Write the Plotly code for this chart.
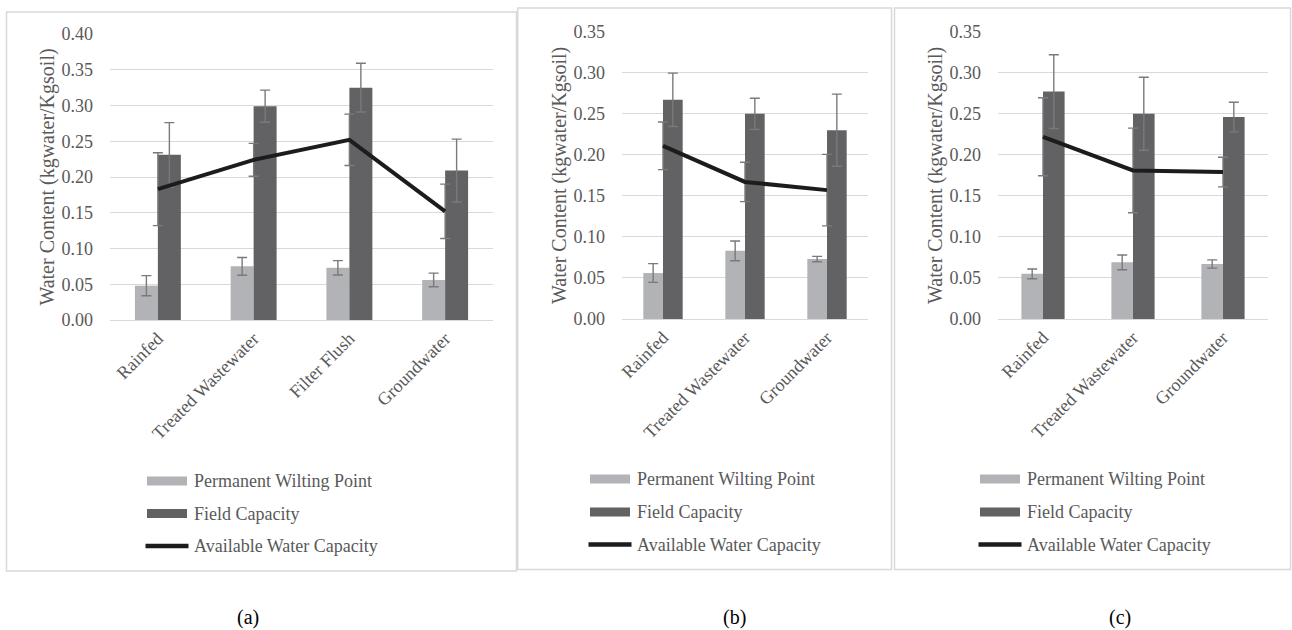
import plotly.graph_objects as go

# ---------------- data ----------------
cats_a = ["Rainfed", "Treated Wastewater", "Filter Flush", "Groundwater"]
pwp_a = [0.048, 0.075, 0.073, 0.056]
pwp_err_a = [0.014, 0.0125, 0.010, 0.0095]
fc_a = [0.231, 0.299, 0.325, 0.209]
fc_err_a = [0.045, 0.0225, 0.034, 0.044]
awc_a = [0.183, 0.224, 0.252, 0.152]
awc_err_a = [0.051, 0.023, 0.036, 0.038]

cats_b = ["Rainfed", "Treated Wastewater", "Groundwater"]
pwp_b = [0.056, 0.083, 0.073]
pwp_err_b = [0.0114, 0.012, 0.0033]
fc_b = [0.267, 0.250, 0.230]
fc_err_b = [0.0325, 0.019, 0.044]
awc_b = [0.211, 0.167, 0.157]
awc_err_b = [0.029, 0.024, 0.0435]

cats_c = ["Rainfed", "Treated Wastewater", "Groundwater"]
pwp_c = [0.055, 0.069, 0.067]
pwp_err_c = [0.006, 0.009, 0.005]
fc_c = [0.277, 0.250, 0.246]
fc_err_c = [0.045, 0.0445, 0.018]
awc_c = [0.222, 0.181, 0.179]
awc_err_c = [0.0475, 0.0515, 0.018]

series_names = ["Permanent Wilting Point", "Field Capacity", "Available Water Capacity"]
y_title = "Water Content (kgwater/Kgsoil)"
captions = ["(a)", "(b)", "(c)"]

# ---------------- style ----------------
W, H = 1292, 630
FONT = "Liberation Serif"
TXT = "#595959"
GRID = "#d9d9d9"
C_PWP = "#b2b3b6"
C_FC = "#626264"
C_AWC = "#1c1c1c"
C_ERR = "#7a7a7a"

def px(x):
    return x / W

def py(y):
    return 1 - y / H

fig = go.Figure()

panels = [
    dict(cats=cats_a, pwp=pwp_a, pe=pwp_err_a, fc=fc_a, fe=fc_err_a, awc=awc_a, ae=awc_err_a,
         xdom=(110, 493), ydom=(34, 320), yr=0.40, box=(6.5, 12, 516.5, 571),
         leg=(147, [481, 513.5, 546]), cap=(248, 617)),
    dict(cats=cats_b, pwp=pwp_b, pe=pwp_err_b, fc=fc_b, fe=fc_err_b, awc=awc_b, ae=awc_err_b,
         xdom=(622, 868), ydom=(31.7, 319), yr=0.35, box=(517.7, 8, 891.5, 569.5),
         leg=(590, [479, 512, 544.5]), cap=(734, 617)),
    dict(cats=cats_c, pwp=pwp_c, pe=pwp_err_c, fc=fc_c, fe=fc_err_c, awc=awc_c, ae=awc_err_c,
         xdom=(998, 1268), ydom=(31.7, 319), yr=0.35, box=(894.5, 8, 1290.5, 569.5),
         leg=(980, [479, 512, 544.5]), cap=(1120, 617)),
]

shapes = []
annotations = []
layout_axes = {}

for i, p in enumerate(panels):
    k = "" if i == 0 else str(i + 1)
    xa, ya = "x" + k, "y" + k
    err_style = dict(type="data", thickness=1.4, width=5, color=C_ERR)
    fig.add_trace(go.Bar(x=p["cats"], y=p["pwp"], name=series_names[0], marker_color=C_PWP,
                         marker_line_width=0, xaxis=xa, yaxis=ya, showlegend=False,
                         offsetgroup="pwp",
                         error_y=dict(array=p["pe"], **err_style)))
    fig.add_trace(go.Bar(x=p["cats"], y=p["fc"], name=series_names[1], marker_color=C_FC,
                         marker_line_width=0, xaxis=xa, yaxis=ya, showlegend=False,
                         offsetgroup="fc",
                         error_y=dict(array=p["fe"], **err_style)))
    fig.add_trace(go.Scatter(x=p["cats"], y=p["awc"], name=series_names[2], mode="lines",
                             line=dict(color=C_AWC, width=4), xaxis=xa, yaxis=ya,
                             showlegend=False,
                             error_y=dict(array=p["ae"], **err_style)))

    layout_axes["xaxis" + k] = dict(
        domain=[px(p["xdom"][0]), px(p["xdom"][1])], anchor=ya, automargin=False,
        type="category", showgrid=False, showline=True, linecolor=GRID, linewidth=1,
        ticks="", tickangle=-45, tickfont=dict(family=FONT, size=18, color=TXT),
        zeroline=False, fixedrange=True,
    )
    layout_axes["yaxis" + k] = dict(
        domain=[py(p["ydom"][1]), py(p["ydom"][0])], anchor=xa, automargin=False,
        range=[0, p["yr"]], dtick=0.05, tick0=0, tickformat=".2f",
        showgrid=True, gridcolor=GRID, gridwidth=1, showline=False, zeroline=False,
        ticks="", ticklabelstandoff=16,
        tickfont=dict(family=FONT, size=18, color=TXT),
        title=dict(text=y_title, font=dict(family=FONT, size=20, color=TXT), standoff=1),
        fixedrange=True,
    )

    # panel frame
    x0, y0, x1, y1 = p["box"]
    shapes.append(dict(type="rect", xref="paper", yref="paper",
                       x0=px(x0), x1=px(x1), y0=py(y1), y1=py(y0),
                       line=dict(color=GRID, width=1.5), layer="below"))

    # legend (drawn)
    lx, rows = p["leg"]
    for j, ry in enumerate(rows):
        if j < 2:
            shapes.append(dict(type="rect", xref="paper", yref="paper",
                               x0=px(lx), x1=px(lx + 40), y0=py(ry + 4.5), y1=py(ry - 4.5),
                               fillcolor=C_PWP if j == 0 else C_FC, line=dict(width=0)))
        else:
            shapes.append(dict(type="line", xref="paper", yref="paper",
                               x0=px(lx - 1.5), x1=px(lx + 41.5), y0=py(ry), y1=py(ry),
                               line=dict(color=C_AWC, width=4.5)))
        annotations.append(dict(text=series_names[j], xref="paper", yref="paper",
                                x=px(lx + 45), y=py(ry), xanchor="left", yanchor="middle",
                                showarrow=False, font=dict(family=FONT, size=18, color=TXT)))

    # caption
    annotations.append(dict(text=captions[i], xref="paper", yref="paper",
                            x=px(p["cap"][0]), y=py(p["cap"][1]), xanchor="center",
                            yanchor="middle", showarrow=False,
                            font=dict(family=FONT, size=20, color="#000000")))

fig.update_layout(
    template="none",
    width=W, height=H,
    margin=dict(l=0, r=0, t=0, b=0, pad=0),
    paper_bgcolor="white", plot_bgcolor="white",
    barmode="group", bargap=0.52, bargroupgap=0,
    showlegend=False,
    shapes=shapes, annotations=annotations,
    font=dict(family=FONT, color=TXT),
    **layout_axes,
)

fig.write_html(
    "out.html",
    config={"displayModeBar": False},
    post_script="document.body.style.margin='0';document.body.style.overflow='hidden';",
)
